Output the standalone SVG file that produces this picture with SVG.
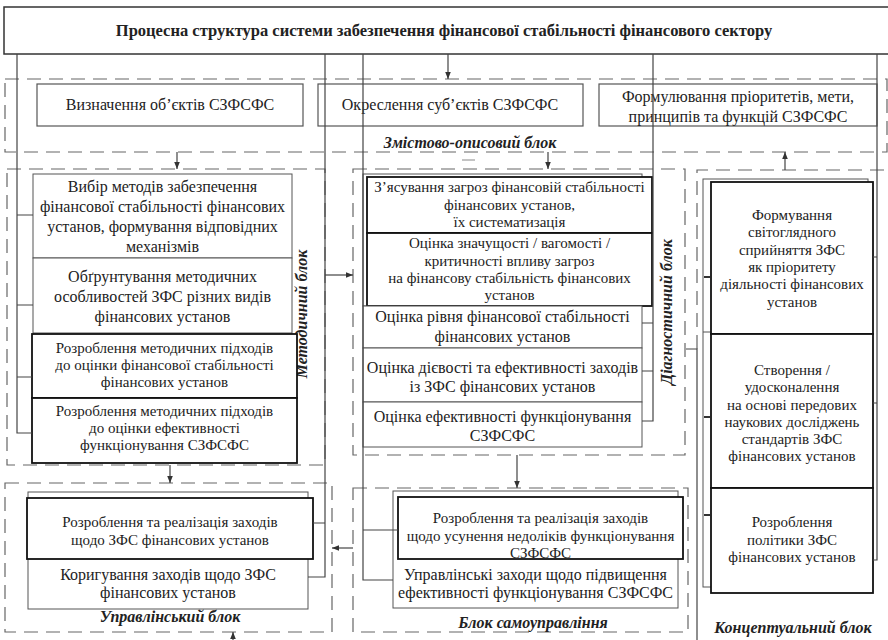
<svg xmlns="http://www.w3.org/2000/svg" width="888" height="640" viewBox="0 0 888 640">
<style>
text { font-family: "Liberation Serif", "Times New Roman", serif; fill:#222; text-anchor: middle; }
.t16 { font-size:16px; }
.t15 { font-size:15px; }
.lbl { font-size:16px; font-weight:bold; font-style:italic; }
.title { font-size:16.5px; font-weight:bold; }
.thin { fill:#fff; stroke:#555; stroke-width:1; }
.open { fill:none; stroke:#555; stroke-width:1.2; }
.bold { fill:#fff; stroke:#111; stroke-width:1.8; }
.dash { fill:none; stroke:#666; stroke-width:1.2; stroke-dasharray:14 8; }
.ln { fill:none; stroke:#444; stroke-width:1.2; }
</style>
<defs>
<marker id="ah" viewBox="0 0 10 10" refX="10" refY="5" markerWidth="7" markerHeight="7" markerUnits="userSpaceOnUse" orient="auto"><path d="M0,1 L10,5 L0,9 z" fill="#333"/></marker>
</defs>
<rect width="888" height="640" fill="#fff"/>

<g id="blocks">
<rect class="dash" x="5" y="79" width="882" height="73"/>
<text class="lbl" x="470" y="148">Змістово-описовий блок</text>
<rect class="dash" x="7" y="169" width="318" height="296"/>
<text class="lbl" transform="translate(307,314) rotate(-90)">Методичний блок</text>
<rect class="dash" x="353" y="169" width="332" height="286"/>
<text class="lbl" transform="translate(672,312) rotate(-90)">Діагностичний блок</text>
<path class="dash" d="M697,349 V170 H888"/>
<text class="lbl" x="793" y="633">Концептуальний блок</text>
<rect class="dash" x="5" y="483" width="327" height="149"/>
<text class="lbl" x="170" y="622">Управлінський блок</text>
<rect class="dash" x="353" y="488" width="335" height="144"/>
<text class="lbl" x="533" y="628">Блок самоуправління</text>
<line x1="462" y1="160" x2="475" y2="160" stroke="#888" stroke-width="1"/>
</g>

<g id="title">
<rect x="4" y="7" width="900" height="47" fill="none" stroke="#333" stroke-width="1.5"/>
<text class="title" x="444" y="36">Процесна структура системи забезпечення фінансової стабільності фінансового сектору</text>
</g>

<g id="z1"><rect class="open" x="37" y="84" width="266" height="42"/><text class="t16" x="170" y="110">Визначення об’єктів СЗФСФС</text></g>
<g id="z2"><rect class="open" x="318" y="84" width="265" height="42"/><text class="t16" x="450" y="110">Окреслення суб’єктів СЗФСФС</text></g>
<g id="z3"><rect class="open" x="599" y="84" width="278" height="42"/><text class="t16" x="738" y="102">Формулювання пріоритетів, мети,</text><text class="t16" x="738" y="122">принципів та функцій СЗФСФС</text></g>

<g id="m1"><rect class="thin" x="33" y="174" width="259" height="84"/>
<text class="t16" x="162.5" y="192">Вибір методів забезпечення</text>
<text class="t16" x="162.5" y="212">фінансової стабільності фінансових</text>
<text class="t16" x="162.5" y="232">установ, формування відповідних</text>
<text class="t16" x="162.5" y="252">механізмів</text></g>
<g id="m2"><rect class="thin" x="33" y="258" width="259" height="75"/>
<text class="t16" x="162.5" y="282">Обґрунтування методичних</text>
<text class="t16" x="162.5" y="302">особливостей ЗФС різних видів</text>
<text class="t16" x="162.5" y="322">фінансових установ</text></g>
<g id="m3"><rect class="bold" x="32" y="334" width="265" height="64"/>
<text class="t15" x="164.5" y="353">Розроблення методичних підходів</text>
<text class="t15" x="164.5" y="370">до оцінки фінансової стабільності</text>
<text class="t15" x="164.5" y="387">фінансових установ</text></g>
<g id="m4"><rect class="bold" x="32" y="398" width="265" height="65"/>
<text class="t15" x="164.5" y="416">Розроблення методичних підходів</text>
<text class="t15" x="164.5" y="433">до оцінки ефективності</text>
<text class="t15" x="164.5" y="450">функціонування СЗФСФС</text></g>

<g id="d-back"><rect class="thin" x="363" y="174" width="279" height="132"/></g>
<g id="d1"><rect class="bold" x="367" y="177" width="285" height="56"/>
<text class="t15" x="509.5" y="192">З’ясування загроз фінансовій стабільності</text>
<text class="t15" x="509.5" y="210">фінансових установ,</text>
<text class="t15" x="509.5" y="227">їх систематизація</text></g>
<g id="d2"><rect class="bold" x="367" y="233" width="285" height="73"/>
<text class="t15" x="509.5" y="248">Оцінка значущості / вагомості /</text>
<text class="t15" x="509.5" y="266">критичності впливу загроз</text>
<text class="t15" x="509.5" y="283">на фінансову стабільність фінансових</text>
<text class="t15" x="509.5" y="300">установ</text></g>
<g id="d3"><rect class="thin" x="363" y="306" width="279" height="42"/>
<text class="t16" x="502.5" y="322">Оцінка рівня фінансової стабільності</text>
<text class="t16" x="502.5" y="342">фінансових установ</text></g>
<g id="d4"><rect class="thin" x="363" y="348" width="279" height="54"/>
<text class="t16" x="502.5" y="373">Оцінка дієвості та ефективності заходів</text>
<text class="t16" x="502.5" y="392">із ЗФС фінансових установ</text></g>
<g id="d5"><rect class="thin" x="363" y="402" width="279" height="45"/>
<text class="t16" x="502.5" y="422">Оцінка ефективності функціонування</text>
<text class="t16" x="502.5" y="441">СЗФСФС</text></g>

<g id="c-back"><rect class="thin" x="703" y="179" width="165" height="408"/>
<line x1="703" y1="332" x2="711" y2="332" stroke="#555"/>
<line x1="704" y1="277" x2="710" y2="277" stroke="#333" stroke-width="2"/>
<line x1="704" y1="417" x2="710" y2="417" stroke="#333" stroke-width="2"/>
<line x1="704" y1="515" x2="710" y2="515" stroke="#333" stroke-width="2"/></g>
<g id="c1"><rect class="bold" x="711" y="182" width="162" height="152"/>
<text class="t15" x="792" y="220">Формування</text>
<text class="t15" x="792" y="237">світоглядного</text>
<text class="t15" x="792" y="255">сприйняття ЗФС</text>
<text class="t15" x="792" y="272">як пріоритету</text>
<text class="t15" x="792" y="289">діяльності фінансових</text>
<text class="t15" x="792" y="307">установ</text></g>
<g id="c2"><rect class="bold" x="711" y="334" width="162" height="154"/>
<text class="t15" x="792" y="375">Створення /</text>
<text class="t15" x="792" y="392">удосконалення</text>
<text class="t15" x="792" y="410">на основі передових</text>
<text class="t15" x="792" y="427">наукових досліджень</text>
<text class="t15" x="792" y="444">стандартів ЗФС</text>
<text class="t15" x="792" y="461">фінансових установ</text></g>
<g id="c3"><rect class="bold" x="711" y="488" width="162" height="105"/>
<text class="t15" x="792" y="527">Розроблення</text>
<text class="t15" x="792" y="545">політики ЗФС</text>
<text class="t15" x="792" y="562">фінансових установ</text></g>

<g id="u-back"><rect class="thin" x="28" y="492" width="280" height="117"/>
<text class="t16" x="168" y="580">Коригування заходів щодо ЗФС</text>
<text class="t16" x="168" y="598">фінансових установ</text></g>
<g id="u1"><rect class="bold" x="27" y="498" width="286" height="61"/>
<text class="t15" x="170" y="527">Розроблення та реалізація заходів</text>
<text class="t15" x="170" y="545">щодо ЗФС фінансових установ</text></g>

<g id="s-back"><rect class="thin" x="393" y="491" width="285" height="117"/>
<text class="t16" x="535.5" y="580">Управлінські заходи щодо підвищення</text>
<text class="t16" x="535.5" y="598">ефективності функціонування СЗФСФС</text></g>
<g id="s1"><rect class="bold" x="398" y="497" width="285" height="62"/>
<text class="t15" x="540.5" y="523">Розроблення та реалізація заходів</text>
<text class="t15" x="540.5" y="541">щодо усунення недоліків функціонування</text>
<text class="t15" x="540.5" y="558">СЗФСФС</text></g>

<g id="connectors">
<path class="ln" d="M17,54 V433 H32 M17,215 H33 M17,305 H33 M17,377 H32"/>
<path class="ln" d="M325,54 V577 H308 M325,523 H313"/>
<path class="ln" d="M363,54 V580 H393 M363,530 H398"/>
<path class="ln" d="M653,54 V421 H642 M653,323 H642 M653,371 H642"/>
<path class="ln" d="M877,54 V560 H873 M877,257 H873 M877,403 H873"/>
<path class="ln" d="M686,349 H697 V640"/>
<line class="ln" x1="448" y1="54" x2="448" y2="79" marker-end="url(#ah)"/>
<line class="ln" x1="177" y1="152" x2="177" y2="169" marker-end="url(#ah)"/>
<line class="ln" x1="548" y1="152" x2="548" y2="169" marker-end="url(#ah)"/>
<line class="ln" x1="785" y1="170" x2="785" y2="152" marker-end="url(#ah)"/>
<line class="ln" x1="170" y1="465" x2="170" y2="483" marker-end="url(#ah)"/>
<line class="ln" x1="517" y1="455" x2="517" y2="488" marker-end="url(#ah)"/>
<line class="ln" x1="325" y1="275" x2="353" y2="275" marker-end="url(#ah)"/>
<line class="ln" x1="353" y1="548" x2="332" y2="548" marker-end="url(#ah)"/>
<line class="ln" x1="233" y1="640" x2="233" y2="632" marker-end="url(#ah)"/>
</g>
</svg>
